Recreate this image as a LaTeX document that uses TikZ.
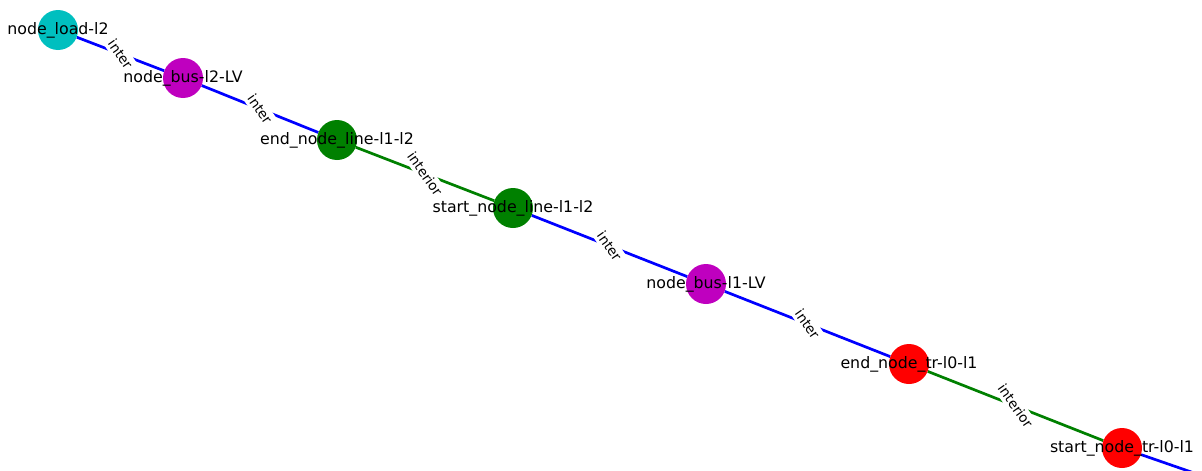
\documentclass[tikz,border=0pt]{standalone}
\usepackage{fontspec}
\setmainfont{DejaVu Sans}
\usetikzlibrary{backgrounds}

\definecolor{nxcyan}{RGB}{0,191,191}
\definecolor{nxmagenta}{RGB}{191,0,191}
\definecolor{nxgreen}{RGB}{0,128,0}
\definecolor{nxred}{RGB}{255,0,0}
\definecolor{nxblue}{RGB}{0,0,255}

\begin{document}
\begin{tikzpicture}[x=1pt, y=-1pt,
    vert/.style={circle, minimum size=40pt, inner sep=0pt},
    lbl/.style={font=\fontsize{15.8}{18}\selectfont, inner sep=0pt},
    inter/.style={line width=2.7pt, nxblue},
    interior/.style={line width=2.7pt, nxgreen},
    tag/.style={font=\fontsize{13.6}{15}\selectfont, fill=white, text=black, inner sep=3pt, rotate=-55}]
    \path[use as bounding box, clip] (0,0) rectangle (1202,471);

    % Draw nodes
    \node[vert, fill=nxcyan, label={[lbl]center:node\_load-l2}] (load) at (58,30) {};
    \node[vert, fill=nxmagenta, label={[lbl]center:node\_bus-l2-LV}] (bustwo) at (183,78) {};
    \node[vert, fill=nxgreen, label={[lbl]center:end\_node\_line-l1-l2}] (lineend) at (337,140) {};
    \node[vert, fill=nxgreen, label={[lbl]center:start\_node\_line-l1-l2}] (linestart) at (513,208) {};
    \node[vert, fill=nxmagenta, label={[lbl]center:node\_bus-l1-LV}] (busone) at (706,284) {};
    \node[vert, fill=nxred, label={[lbl]center:end\_node\_tr-l0-l1}] (trend) at (909,364) {};
    \node[vert, fill=nxred, label={[lbl]center:start\_node\_tr-l0-l1}] (trstart) at (1122,448) {};
    \coordinate (offpage) at (1272,500);

    % Draw edges
    \begin{pgfonlayer}{background}
        \draw[inter] (load) -- node[tag] {inter} (bustwo);
        \draw[inter] (bustwo) -- node[tag] {inter} (lineend);
        \draw[interior] (lineend) -- node[tag] {interior} (linestart);
        \draw[inter] (linestart) -- node[tag] {inter} (busone);
        \draw[inter] (busone) -- node[tag] {inter} (trend);
        \draw[interior] (trend) -- node[tag] {interior} (trstart);
        \draw[inter] (trstart) -- (offpage);
    \end{pgfonlayer}
\end{tikzpicture}
\end{document}
